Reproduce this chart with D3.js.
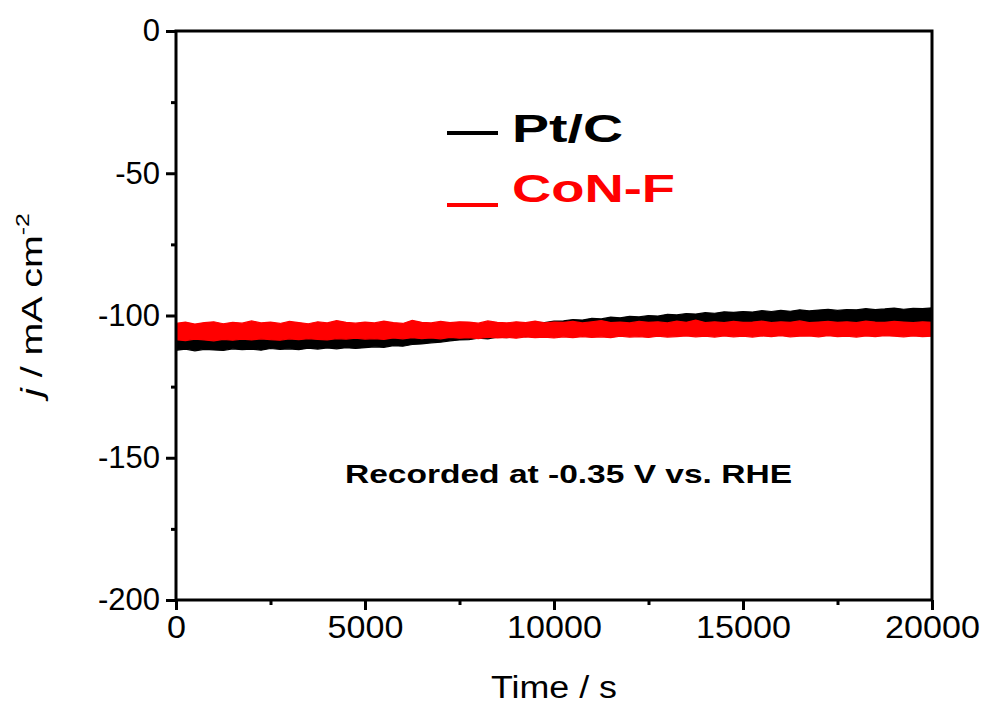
<html>
<head>
<meta charset="utf-8">
<script src="https://d3js.org/d3.v7.min.js"></script>
<style>
    body { margin: 0; background: #fff; }
    text { font-family: "Liberation Sans", Arial, sans-serif; }
    .axis path { display: none; }
    .axis line { stroke: #000; stroke-width: 3px; }
    .axis text { font-size: 31px; fill: #000; font-family: "Liberation Sans", Arial, sans-serif; }
</style>
</head>
<body>
<svg id="chart" width="982" height="704"></svg>
<script>
// sample times (s)
const times = [0,250,500,750,1000,1250,1500,1750,2000,2250,2500,2750,3000,3250,3500,3750,4000,4250,4500,4750,
    5000,5250,5500,5750,6000,6250,6500,6750,7000,7250,7500,7750,8000,8250,8500,8750,9000,9250,9500,9750,
    10000,10250,10500,10750,11000,11250,11500,11750,12000,12250,12500,12750,13000,13250,13500,13750,14000,14250,14500,14750,
    15000,15250,15500,15750,16000,16250,16500,16750,17000,17250,17500,17750,18000,18250,18500,18750,19000,19250,19500,19750,20000];

// Pt/C noise band (upper / lower edge, mA cm-2)
const ptcUpper = [-107.2,-107.6,-106.9,-107.4,-107.1,-107.5,-106.8,-107.3,-107.0,-106.7,-107.2,-106.9,-107.1,-106.6,-107.0,-106.8,-106.4,-106.9,-106.5,-106.7,-106.3,
    -106.1,-106.4,-105.8,-105.9,-105.4,-105.6,-105.0,-104.9,-104.5,-104.2,
    -104.0,-103.6,-103.8,-103.2,-103.3,-102.8,-102.9,-102.4,-102.5,-102.0,
    -101.9,-101.4,-101.6,-101.0,-101.2,-100.6,-100.8,-100.3,-100.5,-100.0,
    -100.2,-99.6,-99.8,-99.3,-99.5,-99.0,-99.2,-98.7,-98.9,-98.6,
    -98.8,-98.3,-98.6,-98.2,-98.5,-98.0,-98.4,-98.1,-97.8,-98.2,-97.9,-98.0,-97.6,-97.9,-97.7,-97.4,-97.8,-97.5,-97.6,-97.3];
const ptcLower = [-112.2,-111.8,-112.4,-111.9,-112.1,-112.3,-111.7,-112.0,-111.8,-112.2,-111.6,-111.9,-111.7,-112.0,-111.5,-111.8,-111.4,-111.7,-111.3,-111.6,-111.3,
    -111.0,-111.2,-110.6,-110.8,-110.2,-110.0,-109.6,-109.4,-108.9,-108.6,
    -108.5,-108.0,-108.2,-107.6,-107.8,-107.3,-107.4,-106.9,-107.0,-106.6,
    -106.5,-106.0,-106.2,-105.7,-105.8,-105.3,-105.4,-105.0,-105.1,-104.8,
    -104.9,-104.5,-104.6,-104.2,-104.4,-104.0,-104.1,-103.7,-103.9,-103.6,
    -103.7,-103.4,-103.5,-103.2,-103.4,-103.1,-103.2,-102.9,-103.1,-102.8,-103.0,-102.7,-102.9,-102.6,-102.8,-102.5,-102.7,-102.4,-102.6,-102.3];

// CoN-F noise band
const conUpper = [-102.8,-102.3,-103.0,-102.5,-102.2,-102.9,-102.4,-102.7,-101.9,-102.6,-102.3,-102.8,-102.1,-102.5,-102.9,-102.2,-102.6,-101.8,-102.4,-102.7,-102.3,
    -102.6,-102.0,-102.5,-102.8,-101.7,-102.4,-102.6,-102.1,-102.5,-102.2,
    -102.3,-102.7,-101.9,-102.4,-102.6,-102.2,-102.5,-102.0,-102.6,-102.3,
    -102.4,-102.1,-102.6,-102.2,-101.8,-102.5,-102.3,-102.6,-102.1,-102.4,
    -102.2,-102.6,-102.0,-102.4,-101.6,-102.5,-102.2,-102.5,-102.1,-102.4,
    -102.3,-102.0,-102.5,-102.2,-102.4,-101.9,-102.5,-102.3,-102.1,-102.4,-102.2,-102.5,-102.0,-102.3,-102.4,-102.1,-102.3,-102.5,-102.2,-102.4];
const conLower = [-108.5,-108.8,-108.3,-108.6,-108.9,-108.4,-108.7,-108.3,-108.6,-108.2,-108.5,-108.7,-108.2,-108.5,-108.1,-108.4,-108.6,-108.1,-108.3,-108.0,-108.3,
    -108.1,-108.4,-107.9,-108.2,-107.8,-108.1,-107.9,-108.2,-107.7,-108.0,
    -107.8,-108.1,-107.6,-107.9,-107.7,-108.0,-107.5,-107.8,-107.6,-107.9,
    -107.5,-107.8,-107.4,-107.7,-107.5,-107.8,-107.3,-107.6,-107.4,-107.7,
    -107.3,-107.6,-107.4,-107.2,-107.5,-107.3,-107.6,-107.2,-107.5,-107.3,
    -107.6,-107.2,-107.4,-107.1,-107.5,-107.3,-107.2,-107.5,-107.1,-107.4,-107.3,-107.6,-107.2,-107.4,-107.1,-107.3,-107.5,-107.2,-107.4,-107.3];

const xTicks = [0, 5000, 10000, 15000, 20000];
const xMinor = [2500, 7500, 12500, 17500];
const yTicks = [0, -50, -100, -150, -200];
const yMinor = [-25, -75, -125, -175];

const svg = d3.select("#chart");
const plotLeft = 176, plotRight = 932, plotTop = 31, plotBottom = 600;

const x = d3.scaleLinear().domain([0, 20000]).range([plotLeft, plotRight]);
const y = d3.scaleLinear().domain([-200, 0]).range([plotBottom, plotTop]);

function band(upper, lower) {
    return times.map((t, i) => ({ t: t, hi: upper[i], lo: lower[i] }));
}
const area = d3.area()
    .x(d => x(d.t))
    .y0(d => y(d.lo))
    .y1(d => y(d.hi));

svg.append("path")
    .datum(band(ptcUpper, ptcLower))
    .attr("d", area)
    .attr("fill", "#000")
    .attr("stroke", "#000")
    .attr("stroke-width", 1.2);

svg.append("path")
    .datum(band(conUpper, conLower))
    .attr("d", area)
    .attr("fill", "#ff0000")
    .attr("stroke", "#ff0000")
    .attr("stroke-width", 1.2);

// axes
const fmt = d => String(d);
const xAxis = svg.append("g").attr("class", "axis")
    .attr("transform", "translate(0," + plotBottom + ")")
    .call(d3.axisBottom(x).tickValues(xTicks).tickSize(10).tickPadding(6).tickFormat(fmt));
svg.append("g").attr("class", "axis")
    .attr("transform", "translate(0," + plotBottom + ")")
    .call(d3.axisBottom(x).tickValues(xMinor).tickSize(5).tickFormat(""));
svg.append("g").attr("class", "axis")
    .attr("transform", "translate(" + plotLeft + ",0)")
    .call(d3.axisLeft(y).tickValues(yTicks).tickSize(10).tickPadding(6).tickFormat(fmt));
svg.append("g").attr("class", "axis")
    .attr("transform", "translate(" + plotLeft + ",0)")
    .call(d3.axisLeft(y).tickValues(yMinor).tickSize(5).tickFormat(""));

// the original labels are a bit wider than Liberation Sans
xAxis.selectAll("text").each(function () {
    const w = this.getComputedTextLength();
    d3.select(this).attr("textLength", w * 1.1).attr("lengthAdjust", "spacingAndGlyphs");
});

// frame
svg.append("rect")
    .attr("x", plotLeft).attr("y", plotTop)
    .attr("width", plotRight - plotLeft).attr("height", plotBottom - plotTop)
    .attr("fill", "none").attr("stroke", "#000").attr("stroke-width", 3);

// axis titles
svg.append("text")
    .attr("x", (plotLeft + plotRight) / 2).attr("y", 698)
    .attr("text-anchor", "middle")
    .attr("font-size", 31)
    .attr("textLength", 126).attr("lengthAdjust", "spacingAndGlyphs")
    .text("Time / s");

const yt = svg.append("text")
    .attr("transform", "translate(42,305) rotate(-90)")
    .attr("text-anchor", "middle")
    .attr("font-size", 30);
yt.append("tspan").attr("font-style", "italic").text("j");
yt.append("tspan").text(" / mA cm");
yt.append("tspan").attr("font-size", 19).attr("dy", -13).text("-2");
yt.attr("textLength", 184).attr("lengthAdjust", "spacingAndGlyphs");

// legend
const legend = [
    { name: "Pt/C", color: "#000", y: 133, dy: 9, w: 111 },
    { name: "CoN-F", color: "#ff0000", y: 205, dy: -3, w: 163 }
];
legend.forEach(l => {
    svg.append("line")
        .attr("x1", 447).attr("x2", 498)
        .attr("y1", l.y).attr("y2", l.y)
        .attr("stroke", l.color).attr("stroke-width", 4);
    svg.append("text")
        .attr("x", 512).attr("y", l.y + l.dy)
        .attr("font-size", 38).attr("font-weight", "bold")
        .attr("fill", l.color)
        .attr("textLength", l.w).attr("lengthAdjust", "spacingAndGlyphs")
        .text(l.name);
});

svg.append("text")
    .attr("x", 345).attr("y", 483)
    .attr("font-size", 25).attr("font-weight", "bold")
    .attr("textLength", 447).attr("lengthAdjust", "spacingAndGlyphs")
    .text("Recorded at -0.35 V vs. RHE");
</script>
</body>
</html>
